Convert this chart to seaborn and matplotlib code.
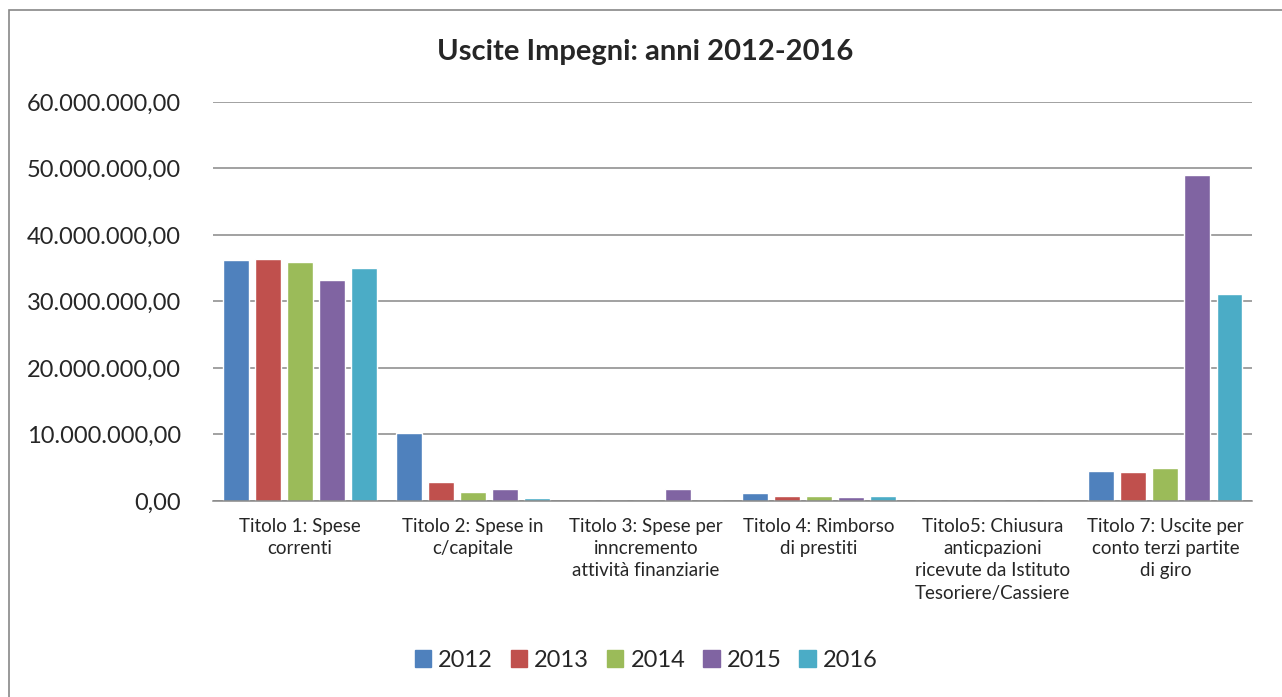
import matplotlib
matplotlib.use("Agg")
import matplotlib.pyplot as plt
from matplotlib.ticker import FuncFormatter, MultipleLocator
from matplotlib.patches import Rectangle
import pandas as pd
import seaborn as sns

# Dati: uscite impegni per titolo e anno
categorie = [
    "Titolo 1: Spese\ncorrenti",
    "Titolo 2: Spese in\nc/capitale",
    "Titolo 3: Spese per\ninncremento\nattività finanziarie",
    "Titolo 4: Rimborso\ndi prestiti",
    "Titolo5: Chiusura\nanticpazioni\nricevute da Istituto\nTesoriere/Cassiere",
    "Titolo 7: Uscite per\nconto terzi partite\ndi giro",
]
anni = ["2012", "2013", "2014", "2015", "2016"]
v2012 = [36300000, 10200000, 0, 1200000, 0, 4500000]
v2013 = [36400000, 2800000, 0, 800000, 0, 4300000]
v2014 = [35900000, 1400000, 0, 800000, 0, 4900000]
v2015 = [33200000, 1800000, 1750000, 600000, 0, 49000000]
v2016 = [35000000, 400000, 0, 700000, 0, 31200000]
colori = ["#4F81BD", "#C0504D", "#9BBB59", "#8064A2", "#4BACC6"]

valori = [v2012, v2013, v2014, v2015, v2016]
righe = []
for anno, serie in zip(anni, valori):
    for cat, v in zip(categorie, serie):
        righe.append({"Titolo": cat, "Anno": anno, "Valore": v})
df = pd.DataFrame(righe)

sns.set_style("white")
plt.rcParams['font.family'] = ['Lato', 'DejaVu Sans']

fig = plt.figure(figsize=(12.82, 6.97), dpi=100)
ax = fig.add_axes([0.1662, 0.2812, 0.8104, 0.5725])

sns.barplot(data=df, x="Titolo", y="Valore", hue="Anno", palette=colori,
            width=0.925, gap=0.19, ax=ax, legend=False, saturation=1)

ax.set_ylim(0, 60000000)
ax.set_xlim(-0.5, 5.5)
ax.yaxis.set_major_locator(MultipleLocator(10000000))
ax.yaxis.set_major_formatter(FuncFormatter(
    lambda v, p: "{:,.2f}".format(v).replace(",", "X").replace(".", ",").replace("X", ".")))
ax.grid(axis="y", color="#878787", linewidth=1.1)
ax.set_axisbelow(True)
for s in ["top", "right", "left"]:
    ax.spines[s].set_visible(False)
ax.spines["bottom"].set_color("#878787")
ax.spines["bottom"].set_linewidth(1.1)
ax.tick_params(axis="y", length=0, pad=23, labelsize=17)
ax.tick_params(axis="x", length=0, pad=12, labelsize=13.5)
for t in ax.get_xticklabels():
    t.set_linespacing(1.38)
    t.set_verticalalignment("top")
ax.set_xlabel("")
ax.set_ylabel("")

fig.text(0.503, 0.925, "Uscite Impegni: anni 2012-2016", ha="center", va="center",
         fontsize=21, fontweight="bold")

handles = [Rectangle((0, 0), 1, 1, color=c) for c in colori]
fig.legend(handles, anni, loc="center", bbox_to_anchor=(0.504, 0.053), ncol=5,
           frameon=False, fontsize=17, handlelength=0.7, handleheight=0.7,
           handletextpad=0.3, columnspacing=0.75)

# cornice esterna
fig.add_artist(Rectangle((9 / 1282, -0.01), 1.0, 0.995, transform=fig.transFigure,
                         fill=False, edgecolor="#878787", linewidth=1.2))

fig.savefig("out.png", dpi=100)
